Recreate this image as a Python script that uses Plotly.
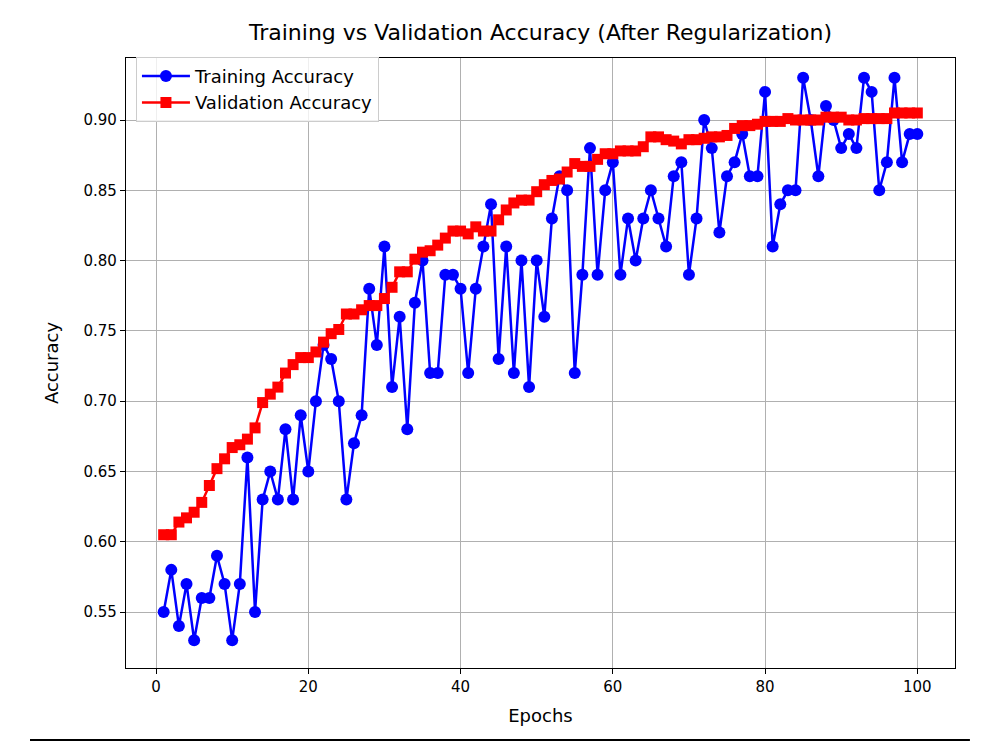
import plotly.graph_objects as go

epochs = list(range(1, 101))

train_acc = [
    0.55, 0.58, 0.54, 0.57, 0.53, 0.56, 0.56, 0.59, 0.57, 0.53,
    0.57, 0.66, 0.55, 0.63, 0.65, 0.63, 0.68, 0.63, 0.69, 0.65,
    0.70, 0.74, 0.73, 0.70, 0.63, 0.67, 0.69, 0.78, 0.74, 0.81,
    0.71, 0.76, 0.68, 0.77, 0.80, 0.72, 0.72, 0.79, 0.79, 0.78,
    0.72, 0.78, 0.81, 0.84, 0.73, 0.81, 0.72, 0.80, 0.71, 0.80,
    0.76, 0.83, 0.86, 0.85, 0.72, 0.79, 0.88, 0.79, 0.85, 0.87,
    0.79, 0.83, 0.80, 0.83, 0.85, 0.83, 0.81, 0.86, 0.87, 0.79,
    0.83, 0.90, 0.88, 0.82, 0.86, 0.87, 0.89, 0.86, 0.86, 0.92,
    0.81, 0.84, 0.85, 0.85, 0.93, 0.90, 0.86, 0.91, 0.90, 0.88,
    0.89, 0.88, 0.93, 0.92, 0.85, 0.87, 0.93, 0.87, 0.89, 0.89,
]

val_acc = [
    0.605, 0.605, 0.614, 0.617, 0.621, 0.628, 0.640, 0.652, 0.659, 0.667,
    0.669, 0.673, 0.681, 0.699, 0.705, 0.710, 0.720, 0.726, 0.731, 0.731,
    0.735, 0.742, 0.748, 0.751, 0.762, 0.762, 0.765, 0.768, 0.768, 0.773,
    0.781, 0.792, 0.792, 0.801, 0.806, 0.807, 0.811, 0.816, 0.821, 0.821,
    0.819, 0.824, 0.821, 0.821, 0.829, 0.836, 0.841, 0.843, 0.843, 0.849,
    0.854, 0.857, 0.858, 0.863, 0.869, 0.867, 0.867, 0.872, 0.876, 0.876,
    0.878, 0.878, 0.878, 0.881, 0.888, 0.888, 0.886, 0.885, 0.883, 0.886,
    0.886, 0.887, 0.888, 0.888, 0.889, 0.894, 0.896, 0.896, 0.897, 0.899,
    0.899, 0.899, 0.901, 0.900, 0.900, 0.900, 0.900, 0.902, 0.902, 0.902,
    0.900, 0.900, 0.901, 0.901, 0.901, 0.901, 0.905, 0.905, 0.905, 0.905,
]

x_ticks = [0, 20, 40, 60, 80, 100]
y_ticks = [0.55, 0.60, 0.65, 0.70, 0.75, 0.80, 0.85, 0.90]

FONT = "DejaVu Sans"

fig = go.Figure()
fig.add_trace(go.Scatter(
    x=epochs, y=train_acc, mode="lines+markers", name="Training Accuracy",
    line=dict(color="#0000ff", width=2.5),
    marker=dict(symbol="circle", size=12, color="#0000ff"),
))
fig.add_trace(go.Scatter(
    x=epochs, y=val_acc, mode="lines+markers", name="Validation Accuracy",
    line=dict(color="#ff0000", width=2.5),
    marker=dict(symbol="square", size=11, color="#ff0000"),
))

axis_common = dict(
    showline=True, linecolor="black", linewidth=1.3, mirror=True,
    ticks="outside", ticklen=5, tickcolor="black", tickwidth=1.3,
    showgrid=True, gridcolor="#b0b0b0", gridwidth=1.2,
    zeroline=False, tickfont=dict(family=FONT, size=15, color="black"),
)

fig.update_layout(
    width=1000, height=750,
    margin=dict(l=126, r=45, t=58, b=82),
    paper_bgcolor="white", plot_bgcolor="white",
    font=dict(family=FONT, size=15, color="black"),
    title=dict(text="Training vs Validation Accuracy (After Regularization)",
               xref="paper", x=0.5, xanchor="center", y=0.957, yanchor="middle",
               font=dict(family=FONT, size=22, color="black")),
    xaxis=dict(range=[-3.95, 104.95], tickvals=x_ticks,
               title=dict(text="Epochs", font=dict(family=FONT, size=18), standoff=14),
               **axis_common),
    yaxis=dict(range=[0.5102, 0.9441], tickvals=y_ticks, tickformat=".2f",
               title=dict(text="Accuracy", font=dict(family=FONT, size=18), standoff=20),
               **axis_common),
    legend=dict(x=0.012, y=1.002, xanchor="left", yanchor="top",
                bgcolor="rgba(255,255,255,0.8)", bordercolor="#cccccc", borderwidth=1,
                font=dict(family=FONT, size=18, color="black"),
                itemwidth=48, tracegroupgap=2),
    showlegend=True,
    shapes=[dict(type="line", xref="paper", yref="paper",
                 x0=-0.1158, x1=1.018, y0=-0.118, y1=-0.118,
                 line=dict(color="black", width=2))],
)

fig.write_html("out.html")
